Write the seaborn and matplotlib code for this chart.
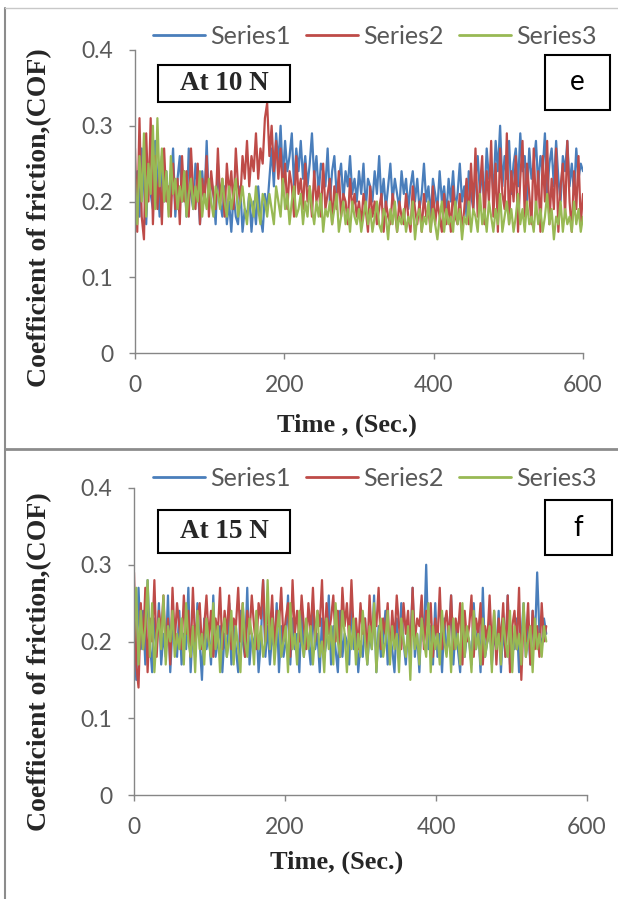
import numpy as np
import pandas as pd
import seaborn as sns
import matplotlib
matplotlib.use("Agg")
import matplotlib.pyplot as plt
from matplotlib.patches import Rectangle
from matplotlib.lines import Line2D

# ---------------- data (3 s step) ----------------
series_names = ["Series1", "Series2", "Series3"]
colors = ["#4A7EBB", "#BE4B48", "#98B954"]

time_e = list(range(0, 601, 3))
e_s1 = [0.20, 0.24, 0.18, 0.27, 0.22, 0.17, 0.25, 0.21, 0.19, 0.28, 0.23, 0.18, 0.26, 0.20, 0.24, 0.19, 0.22, 0.27, 0.18, 0.23,
        0.26, 0.20, 0.24, 0.18, 0.27, 0.21, 0.19, 0.25, 0.22, 0.17, 0.24, 0.20, 0.28, 0.19, 0.23, 0.21, 0.17, 0.25, 0.20, 0.18,
        0.22, 0.17, 0.20, 0.16, 0.21, 0.18, 0.17, 0.22, 0.16, 0.19, 0.18, 0.21, 0.16, 0.20, 0.17, 0.22, 0.18, 0.16, 0.21, 0.19,
        0.23, 0.27, 0.22, 0.29, 0.25, 0.30, 0.23, 0.28, 0.24, 0.26, 0.29, 0.22, 0.27, 0.24, 0.28, 0.23, 0.26, 0.22, 0.25, 0.29,
        0.23, 0.26, 0.21, 0.25, 0.24, 0.22, 0.27, 0.20, 0.24, 0.26, 0.21, 0.23, 0.25, 0.20, 0.24, 0.22, 0.26, 0.21, 0.23, 0.20,
        0.24, 0.21, 0.25, 0.19, 0.23, 0.22, 0.20, 0.24, 0.21, 0.26, 0.20, 0.23, 0.19, 0.22, 0.25, 0.20, 0.23, 0.21, 0.19, 0.24,
        0.21, 0.23, 0.19, 0.22, 0.24, 0.20, 0.23, 0.19, 0.21, 0.25, 0.20, 0.22, 0.18, 0.23, 0.21, 0.19, 0.24, 0.20, 0.22, 0.18,
        0.23, 0.20, 0.24, 0.19, 0.21, 0.25, 0.20, 0.22, 0.18, 0.24, 0.21, 0.19, 0.23, 0.26, 0.21, 0.24, 0.20, 0.27, 0.23, 0.25,
        0.21, 0.28, 0.24, 0.30, 0.22, 0.26, 0.23, 0.28, 0.21, 0.25, 0.27, 0.22, 0.29, 0.24, 0.26, 0.20, 0.27, 0.23, 0.25, 0.28,
        0.22, 0.26, 0.24, 0.29, 0.21, 0.25, 0.27, 0.22, 0.28, 0.23, 0.20, 0.26, 0.24, 0.28, 0.22, 0.25, 0.21, 0.27, 0.23, 0.25,
        0.24]
e_s2 = [0.27, 0.16, 0.31, 0.18, 0.15, 0.29, 0.20, 0.31, 0.17, 0.26, 0.19, 0.24, 0.17, 0.27, 0.20, 0.22, 0.18, 0.25, 0.19, 0.23,
        0.17, 0.26, 0.20, 0.24, 0.18, 0.27, 0.21, 0.19, 0.25, 0.17, 0.23, 0.20, 0.26, 0.18, 0.24, 0.21, 0.19, 0.27, 0.20, 0.23,
        0.18, 0.25, 0.21, 0.24, 0.19, 0.27, 0.22, 0.20, 0.26, 0.23, 0.28, 0.22, 0.26, 0.24, 0.29, 0.23, 0.27, 0.25, 0.31, 0.33,
        0.26, 0.30, 0.24, 0.28, 0.23, 0.27, 0.21, 0.25, 0.19, 0.24, 0.22, 0.18, 0.26, 0.21, 0.23, 0.19, 0.25, 0.20, 0.22, 0.18,
        0.24, 0.20, 0.22, 0.18, 0.25, 0.19, 0.21, 0.23, 0.17, 0.22, 0.19, 0.24, 0.18, 0.21, 0.20, 0.17, 0.23, 0.19, 0.21, 0.18,
        0.20, 0.17, 0.21, 0.19, 0.16, 0.22, 0.18, 0.20, 0.17, 0.19, 0.21, 0.16, 0.20, 0.18, 0.17, 0.21, 0.19, 0.16, 0.20, 0.18,
        0.17, 0.21, 0.18, 0.16, 0.22, 0.19, 0.17, 0.20, 0.16, 0.21, 0.18, 0.19, 0.16, 0.22, 0.17, 0.20, 0.18, 0.16, 0.21, 0.17,
        0.20, 0.16, 0.22, 0.18, 0.17, 0.21, 0.16, 0.19, 0.23, 0.17, 0.25, 0.19, 0.27, 0.18, 0.22, 0.26, 0.17, 0.24, 0.20, 0.28,
        0.18, 0.25, 0.16, 0.27, 0.21, 0.19, 0.29, 0.17, 0.24, 0.20, 0.26, 0.16, 0.23, 0.28, 0.18, 0.25, 0.21, 0.17, 0.27, 0.19,
        0.24, 0.16, 0.26, 0.20, 0.28, 0.17, 0.23, 0.19, 0.27, 0.16, 0.22, 0.25, 0.18, 0.28, 0.20, 0.16, 0.24, 0.19, 0.26, 0.17,
        0.21]
e_s3 = [0.23, 0.17, 0.26, 0.20, 0.29, 0.18, 0.25, 0.21, 0.30, 0.19, 0.31, 0.22, 0.27, 0.20, 0.24, 0.18, 0.26, 0.21, 0.23, 0.19,
        0.22, 0.20, 0.24, 0.18, 0.21, 0.23, 0.19, 0.22, 0.20, 0.24, 0.18, 0.21, 0.19, 0.23, 0.20, 0.18, 0.22, 0.21, 0.19, 0.23,
        0.20, 0.18, 0.22, 0.19, 0.21, 0.23, 0.18, 0.20, 0.22, 0.19, 0.17, 0.21, 0.20, 0.18, 0.22, 0.19, 0.17, 0.21, 0.20, 0.18,
        0.21, 0.19, 0.17, 0.22, 0.20, 0.18, 0.23, 0.19, 0.21, 0.17, 0.20, 0.22, 0.18, 0.19, 0.21, 0.17, 0.20, 0.18, 0.22, 0.19,
        0.17, 0.20, 0.18, 0.21, 0.16, 0.19, 0.18, 0.20, 0.17, 0.19, 0.21, 0.16, 0.18, 0.20, 0.17, 0.19, 0.16, 0.20, 0.18, 0.17,
        0.19, 0.16, 0.18, 0.20, 0.17, 0.19, 0.16, 0.18, 0.20, 0.17, 0.16, 0.19, 0.18, 0.15, 0.19, 0.17, 0.20, 0.16, 0.18, 0.17,
        0.19, 0.16, 0.18, 0.17, 0.20, 0.15, 0.18, 0.19, 0.16, 0.18, 0.17, 0.20, 0.16, 0.19, 0.17, 0.15, 0.18, 0.20, 0.16, 0.19,
        0.17, 0.18, 0.16, 0.20, 0.17, 0.19, 0.15, 0.18, 0.17, 0.20, 0.16, 0.19, 0.18, 0.16, 0.21, 0.17, 0.19, 0.16, 0.20, 0.18,
        0.16, 0.19, 0.17, 0.21, 0.16, 0.18, 0.20, 0.17, 0.19, 0.16, 0.18, 0.21, 0.17, 0.19, 0.16, 0.20, 0.17, 0.18, 0.16, 0.20,
        0.17, 0.19, 0.16, 0.18, 0.21, 0.17, 0.19, 0.15, 0.18, 0.17, 0.20, 0.16, 0.19, 0.17, 0.18, 0.16, 0.20, 0.17, 0.19, 0.16,
        0.18]

time_f = list(range(0, 547, 3))
f_s1 = [0.22, 0.15, 0.27, 0.19, 0.24, 0.17, 0.28, 0.20, 0.16, 0.23, 0.19, 0.25, 0.17, 0.21, 0.18, 0.26, 0.16, 0.22, 0.20, 0.18,
        0.24, 0.17, 0.21, 0.19, 0.27, 0.16, 0.22, 0.18, 0.25, 0.20, 0.15, 0.23, 0.19, 0.21, 0.17, 0.26, 0.18, 0.20, 0.22, 0.16,
        0.21, 0.18, 0.25, 0.17, 0.22, 0.19, 0.16, 0.24, 0.20, 0.18, 0.27, 0.17, 0.21, 0.19, 0.23, 0.16, 0.20, 0.28, 0.18, 0.22,
        0.17, 0.21, 0.19, 0.25, 0.16, 0.22, 0.18, 0.20, 0.26, 0.17, 0.23, 0.19, 0.21, 0.16, 0.24, 0.18, 0.22, 0.20, 0.17, 0.25,
        0.19, 0.21, 0.16, 0.23, 0.18, 0.20, 0.26, 0.17, 0.22, 0.19, 0.16, 0.24, 0.18, 0.21, 0.20, 0.17, 0.25, 0.19, 0.22, 0.16,
        0.20, 0.18, 0.23, 0.17, 0.21, 0.19, 0.26, 0.16, 0.22, 0.18, 0.20, 0.24, 0.17, 0.21, 0.19, 0.16, 0.23, 0.18, 0.25, 0.20,
        0.17, 0.22, 0.19, 0.27, 0.18, 0.21, 0.16, 0.24, 0.20, 0.30, 0.19, 0.22, 0.17, 0.25, 0.18, 0.21, 0.16, 0.23, 0.19, 0.20,
        0.26, 0.17, 0.22, 0.19, 0.16, 0.24, 0.18, 0.21, 0.20, 0.17, 0.25, 0.19, 0.22, 0.16, 0.27, 0.18, 0.20, 0.23, 0.17, 0.21,
        0.19, 0.24, 0.16, 0.22, 0.18, 0.26, 0.17, 0.21, 0.19, 0.23, 0.16, 0.20, 0.25, 0.18, 0.22, 0.17, 0.24, 0.20, 0.29, 0.21,
        0.19, 0.23, 0.21]
f_s2 = [0.29, 0.17, 0.14, 0.25, 0.19, 0.27, 0.16, 0.23, 0.20, 0.28, 0.18, 0.24, 0.21, 0.26, 0.19, 0.23, 0.17, 0.27, 0.20, 0.25,
        0.22, 0.19, 0.26, 0.21, 0.24, 0.18, 0.27, 0.20, 0.23, 0.25, 0.19, 0.22, 0.26, 0.20, 0.24, 0.18, 0.23, 0.21, 0.27, 0.19,
        0.24, 0.21, 0.26, 0.19, 0.23, 0.22, 0.27, 0.20, 0.25, 0.18, 0.24, 0.21, 0.26, 0.22, 0.19, 0.25, 0.23, 0.28, 0.20, 0.24,
        0.21, 0.26, 0.19, 0.24, 0.22, 0.27, 0.20, 0.23, 0.25, 0.18, 0.28, 0.21, 0.24, 0.20, 0.26, 0.22, 0.19, 0.25, 0.21, 0.27,
        0.20, 0.24, 0.22, 0.28, 0.19, 0.25, 0.21, 0.23, 0.26, 0.20, 0.24, 0.18, 0.27, 0.22, 0.25, 0.20, 0.28, 0.21, 0.23, 0.19,
        0.25, 0.21, 0.23, 0.18, 0.26, 0.20, 0.24, 0.22, 0.27, 0.19, 0.23, 0.21, 0.25, 0.18, 0.24, 0.20, 0.26, 0.22, 0.19, 0.25,
        0.21, 0.24, 0.18, 0.27, 0.20, 0.23, 0.22, 0.26, 0.19, 0.24, 0.21, 0.25, 0.18, 0.23, 0.20, 0.27, 0.19, 0.22, 0.24, 0.20,
        0.26, 0.19, 0.23, 0.21, 0.25, 0.17, 0.24, 0.20, 0.22, 0.26, 0.18, 0.23, 0.21, 0.25, 0.17, 0.22, 0.20, 0.26, 0.19, 0.24,
        0.17, 0.23, 0.20, 0.25, 0.18, 0.26, 0.16, 0.22, 0.24, 0.19, 0.27, 0.15, 0.23, 0.20, 0.25, 0.17, 0.24, 0.19, 0.22, 0.18,
        0.25, 0.20, 0.22]
f_s3 = [0.20, 0.27, 0.17, 0.24, 0.19, 0.22, 0.28, 0.18, 0.25, 0.16, 0.21, 0.23, 0.19, 0.26, 0.17, 0.22, 0.20, 0.24, 0.18, 0.21,
        0.19, 0.23, 0.17, 0.25, 0.20, 0.18, 0.22, 0.16, 0.24, 0.19, 0.21, 0.17, 0.23, 0.20, 0.18, 0.25, 0.19, 0.22, 0.16, 0.21,
        0.23, 0.18, 0.20, 0.24, 0.17, 0.22, 0.19, 0.16, 0.25, 0.20, 0.18, 0.23, 0.21, 0.17, 0.24, 0.19, 0.22, 0.18, 0.20, 0.28,
        0.19, 0.23, 0.17, 0.21, 0.24, 0.18, 0.20, 0.22, 0.16, 0.25, 0.19, 0.21, 0.17, 0.24, 0.20, 0.18, 0.23, 0.19, 0.22, 0.17,
        0.21, 0.24, 0.18, 0.20, 0.16, 0.23, 0.19, 0.22, 0.17, 0.25, 0.20, 0.18, 0.24, 0.21, 0.16, 0.22, 0.19, 0.23, 0.17, 0.21,
        0.18, 0.24, 0.20, 0.17, 0.22, 0.19, 0.25, 0.16, 0.21, 0.23, 0.18, 0.20, 0.24, 0.17, 0.22, 0.19, 0.21, 0.16, 0.23, 0.20,
        0.18, 0.22, 0.15, 0.24, 0.19, 0.21, 0.17, 0.23, 0.20, 0.18, 0.25, 0.16, 0.22, 0.19, 0.21, 0.17, 0.24, 0.20, 0.18, 0.22,
        0.16, 0.23, 0.19, 0.21, 0.17, 0.25, 0.18, 0.22, 0.20, 0.16, 0.24, 0.19, 0.21, 0.17, 0.23, 0.18, 0.20, 0.22, 0.16, 0.24,
        0.19, 0.21, 0.17, 0.23, 0.20, 0.18, 0.24, 0.16, 0.22, 0.19, 0.21, 0.17, 0.25, 0.18, 0.20, 0.22, 0.16, 0.23, 0.19, 0.21,
        0.18, 0.22, 0.20]

x_ticks = [0, 200, 400, 600]
y_ticks = [0, 0.1, 0.2, 0.3, 0.4]
y_tick_labels = ["0", "0.1", "0.2", "0.3", "0.4"]


def long_df(t, s1, s2, s3):
    frames = []
    for name, vals in zip(series_names, [s1, s2, s3]):
        n = min(len(t), len(vals))
        frames.append(pd.DataFrame({"Time": t[:n], "COF": vals[:n], "Series": name}))
    return pd.concat(frames, ignore_index=True)


df_e = long_df(time_e, e_s1, e_s2, e_s3)
df_f = long_df(time_f, f_s1, f_s2, f_s3)

# ---------------- figure ----------------
sns.set_theme(style="white")
plt.rcParams["font.family"] = ["Lato", "DejaVu Sans"]

W, H = 618, 899
fig = plt.figure(figsize=(W / 100, H / 100), dpi=100)
fig.patch.set_facecolor("white")

SPINE = "#868686"
TICKC = "#595959"
SERIF = ["Liberation Serif", "DejaVu Serif"]


def px_axes(left, top, right, bottom):
    return fig.add_axes([left / W, 1 - bottom / H, (right - left) / W, (bottom - top) / H])


panels = [
    dict(df=df_e, box=(135, 50, 583, 353), leg_y=36, tag="At 10 N", tagbox=(158, 65, 290, 102),
         letter="e", letbox=(545, 55, 610, 110), xlabel="Time , (Sec.)", xl=(347, 425), yl=(40, 218)),
    dict(df=df_f, box=(134, 488, 587, 795), leg_y=478, tag="At 15 N", tagbox=(158, 510, 290, 553),
         letter="f", letbox=(545, 500, 612, 555), xlabel="Time, (Sec.)", xl=(337, 862), yl=(40, 662)),
]

for p in panels:
    ax = px_axes(*p["box"])
    sns.lineplot(data=p["df"], x="Time", y="COF", hue="Series", hue_order=series_names,
                 palette=colors, linewidth=1.6, ax=ax, legend=False, errorbar=None)
    ax.set_xlim(0, 600)
    ax.set_ylim(0, 0.4)
    ax.set_xticks(x_ticks)
    ax.set_yticks(y_ticks)
    ax.set_yticklabels(y_tick_labels)
    ax.set_xlabel("")
    ax.set_ylabel("")
    for s in ["top", "right"]:
        ax.spines[s].set_visible(False)
    for s in ["left", "bottom"]:
        ax.spines[s].set_color(SPINE)
        ax.spines[s].set_linewidth(1.0)
    ax.tick_params(axis="both", which="major", direction="out", length=4.5, width=1.0,
                   color=SPINE, labelcolor=TICKC, labelsize=16.5, left=True, bottom=True)
    ax.tick_params(axis="y", pad=11)
    ax.tick_params(axis="x", pad=11)
    ax.patch.set_alpha(0)

    handles = [Line2D([0], [0], color=c, lw=2.0) for c in colors]
    fig.legend(handles, series_names, loc="center", bbox_to_anchor=(375 / W, 1 - p["leg_y"] / H),
               ncol=3, frameon=False, fontsize=18, handlelength=2.1, handletextpad=0.2,
               columnspacing=0.6, labelcolor=TICKC, borderpad=0, borderaxespad=0)

    x0, y0, x1, y1 = p["tagbox"]
    fig.add_artist(Rectangle((x0 / W, 1 - y1 / H), (x1 - x0) / W, (y1 - y0) / H,
                             transform=fig.transFigure, fill=True, fc="white", ec="black", lw=1.5))
    fig.text((x0 + x1) / 2 / W, 1 - (y0 + y1) / 2 / H, p["tag"], ha="center", va="center",
             family=SERIF, fontweight="bold", fontsize=19.5)

    x0, y0, x1, y1 = p["letbox"]
    fig.add_artist(Rectangle((x0 / W, 1 - y1 / H), (x1 - x0) / W, (y1 - y0) / H,
                             transform=fig.transFigure, fill=True, fc="white", ec="black", lw=1.5))
    fig.text((x0 + x1) / 2 / W, 1 - (y0 + y1) / 2 / H, p["letter"], ha="center", va="center",
             fontsize=20, color="black")

    fig.text(p["xl"][0] / W, 1 - p["xl"][1] / H, p["xlabel"], ha="center", va="center",
             family=SERIF, fontweight="bold", fontsize=19)
    fig.text(p["yl"][0] / W, 1 - p["yl"][1] / H, "Coefficient of friction,(COF)", ha="center",
             va="center", rotation=90, family=SERIF, fontweight="bold", fontsize=20)

# outer frame lines
fig.add_artist(Line2D([5 / W, 5 / W], [0, 1 - 8 / H], transform=fig.transFigure, color="#8c8c8c", lw=1.5))
fig.add_artist(Line2D([5 / W, 1], [1 - 8 / H, 1 - 8 / H], transform=fig.transFigure, color="#c8c8c8", lw=1.0))
fig.add_artist(Line2D([5 / W, 1], [1 - 449 / H, 1 - 449 / H], transform=fig.transFigure, color="#8c8c8c", lw=2.0))

fig.savefig("out.png", dpi=100, facecolor="white")
